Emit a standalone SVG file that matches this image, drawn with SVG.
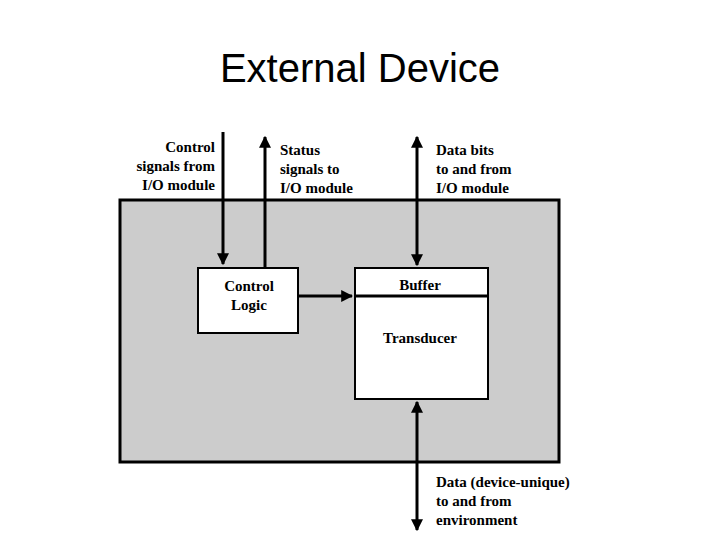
<svg xmlns="http://www.w3.org/2000/svg" width="720" height="540" viewBox="0 0 720 540">
<style>
.t{font-family:"Liberation Serif",serif;font-weight:bold;font-size:15px;fill:#000}
.l{stroke:#000;stroke-width:3;fill:none}
.b{fill:#fff;stroke:#000;stroke-width:2}
</style>
<defs><marker id="a" viewBox="0 0 10 10" refX="9" refY="5" markerWidth="4" markerHeight="4" orient="auto-start-reverse"><path d="M0,0L10,5L0,10z" fill="#000"/></marker></defs>
<rect width="720" height="540" fill="#fff"/>
<text x="360" y="82" text-anchor="middle" font-family="Liberation Sans,sans-serif" font-size="40">External Device</text>
<g id="device"><rect x="120" y="200" width="439" height="262" fill="#cccccc" stroke="#000" stroke-width="3"/></g>
<g id="control"><rect class="b" x="198" y="268" width="100" height="65"/><text class="t" x="249" y="291" text-anchor="middle">Control</text><text class="t" x="249" y="310" text-anchor="middle">Logic</text></g>
<g id="buffer"><rect class="b" x="355" y="268" width="133" height="131" stroke-width="3"/><line x1="355" y1="296" x2="488" y2="296" stroke="#000" stroke-width="3"/><text class="t" x="420" y="290" text-anchor="middle">Buffer</text><text class="t" x="420" y="343" text-anchor="middle">Transducer</text></g>
<g id="connectors">
<line class="l" x1="223" y1="132" x2="223" y2="264" marker-end="url(#a)"/>
<line class="l" x1="265" y1="268" x2="265" y2="137" marker-end="url(#a)"/>
<line class="l" x1="417" y1="137" x2="417" y2="265" marker-start="url(#a)" marker-end="url(#a)"/>
<line class="l" x1="298" y1="296" x2="352" y2="296" marker-end="url(#a)"/>
<line class="l" x1="417" y1="402" x2="417" y2="530" marker-start="url(#a)" marker-end="url(#a)"/>
</g>
<g id="labels">
<text class="t" x="215" y="152" text-anchor="end">Control</text><text class="t" x="215" y="171" text-anchor="end">signals from</text><text class="t" x="215" y="190" text-anchor="end">I/O module</text>
<text class="t" x="280" y="155">Status</text><text class="t" x="280" y="174">signals to</text><text class="t" x="280" y="193">I/O module</text>
<text class="t" x="436" y="155">Data bits</text><text class="t" x="436" y="174">to and from</text><text class="t" x="436" y="193">I/O module</text>
<text class="t" x="436" y="487">Data (device-unique)</text><text class="t" x="436" y="506">to and from</text><text class="t" x="436" y="525">environment</text>
</g>
</svg>
